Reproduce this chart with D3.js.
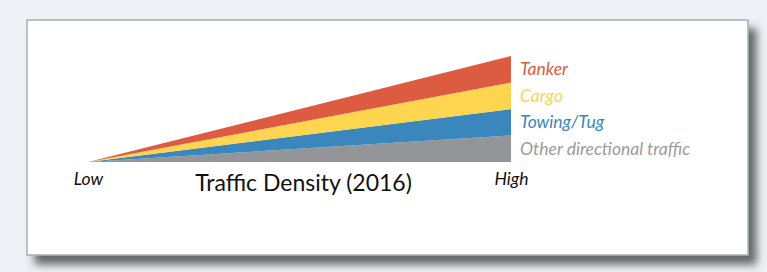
<!DOCTYPE html>
<html>
<head>
<meta charset="utf-8">
<script src="https://cdn.jsdelivr.net/npm/d3@7"></script>
<style>
	body { margin: 0; background: #eef2f6; }
	svg { display: block; }
	.tick-label { font-family: Lato, "Open Sans", sans-serif; font-style: italic; font-size: 17.5px; fill: #111; }
	.legend-label { font-family: Lato, "Open Sans", sans-serif; font-style: italic; font-size: 17.5px; }
	.title { font-family: Lato, "Open Sans", sans-serif; font-size: 23px; fill: #111; }
</style>
</head>
<body>
<div id="chart"></div>
<script>
// density levels along the x axis
var densityLevels = ["Low", "High"];

// vessel types, bottom to top of the stack
var vesselTypes = ["Other directional traffic", "Towing/Tug", "Cargo", "Tanker"];

// traffic share per vessel type at each density level
var otherValues = [0, 1];
var towingValues = [0, 1];
var cargoValues = [0, 1];
var tankerValues = [0, 1];

var colors = ["#939598", "#3a87be", "#fdd54f", "#dc5b41"];
var labelColors = ["#9a9b9e", "#3a87be", "#fdd54f", "#dc5b41"];

var chartTitle = "Traffic Density (2016)";

var chartProperties = {
	outerWidth: 767,
	outerHeight: 272,
	card: { x: 27, y: 20, width: 721, height: 235 },
	plot: { left: 88, right: 511, top: 56, bottom: 162 }
};

var rows = densityLevels.map(function(level, i) {
	return {
		level: level,
		"Other directional traffic": otherValues[i],
		"Towing/Tug": towingValues[i],
		"Cargo": cargoValues[i],
		"Tanker": tankerValues[i]
	};
});

var svg = d3.select("#chart")
	.append("svg")
	.attr("width", chartProperties.outerWidth)
	.attr("height", chartProperties.outerHeight);

// drop shadow for the card
var defs = svg.append("defs");
var filter = defs.append("filter")
	.attr("id", "shadow")
	.attr("x", "-5%").attr("y", "-5%")
	.attr("width", "115%").attr("height", "125%");
filter.append("feDropShadow")
	.attr("dx", 8)
	.attr("dy", 9)
	.attr("stdDeviation", 4)
	.attr("flood-color", "#3a3a3a")
	.attr("flood-opacity", 0.75);

svg.append("rect")
	.attr("x", chartProperties.card.x)
	.attr("y", chartProperties.card.y)
	.attr("width", chartProperties.card.width)
	.attr("height", chartProperties.card.height)
	.attr("fill", "#fff")
	.attr("stroke", "#a7aeb6")
	.attr("stroke-width", 1.5)
	.attr("filter", "url(#shadow)");

// Scale
var xScale = d3.scalePoint()
	.domain(densityLevels)
	.range([chartProperties.plot.left, chartProperties.plot.right]);

var stack = d3.stack().keys(vesselTypes);
var layers = stack(rows);

var yScale = d3.scaleLinear()
	.domain([0, d3.max(layers[layers.length - 1], function(d) { return d[1]; })])
	.range([chartProperties.plot.bottom, chartProperties.plot.top]);

var area = d3.area()
	.x(function(d) { return xScale(d.data.level); })
	.y0(function(d) { return yScale(d[0]); })
	.y1(function(d) { return yScale(d[1]); });

svg.append("g")
	.selectAll("path")
	.data(layers)
	.enter()
	.append("path")
	.attr("d", area)
	.attr("fill", function(d, i) { return colors[i]; });

// Legend labels next to the high end of each band
var last = densityLevels.length - 1;
svg.append("g")
	.selectAll("text")
	.data(layers)
	.enter()
	.append("text")
	.attr("class", "legend-label")
	.attr("x", xScale(densityLevels[last]) + 9)
	.attr("y", function(d) { return yScale((d[last][0] + d[last][1]) / 2); })
	.attr("dy", "0.35em")
	.attr("fill", function(d, i) { return labelColors[i]; })
	.text(function(d) { return d.key; });

// Axis
var xAxis = d3.axisBottom(xScale)
	.tickSize(0)
	.tickPadding(11);

var axisG = svg.append("g")
	.attr("transform", "translate(0," + chartProperties.plot.bottom + ")")
	.call(xAxis);
axisG.select(".domain").remove();
axisG.selectAll("text")
	.attr("class", "tick-label")
	.attr("fill", null)
	.attr("font-size", null)
	.attr("font-family", null);

svg.append("text")
	.attr("class", "title")
	.attr("x", (chartProperties.plot.left + chartProperties.plot.right) / 2 + 4)
	.attr("y", 191)
	.attr("text-anchor", "middle")
	.text(chartTitle);
</script>
</body>
</html>
